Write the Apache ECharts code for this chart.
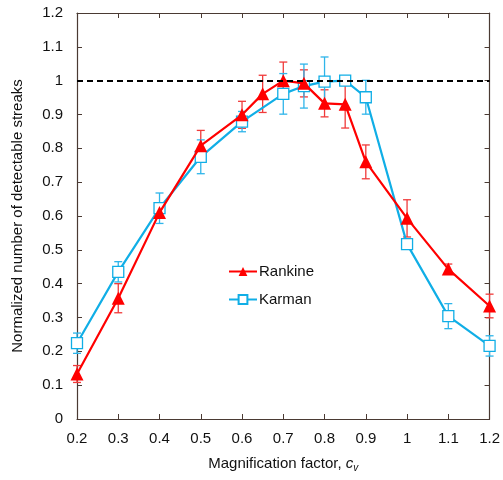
<!DOCTYPE html>
<html>
<head>
<meta charset="utf-8">
<script src="https://cdn.jsdelivr.net/npm/echarts@6/dist/echarts.min.js"></script>
<style>
  html, body { margin: 0; padding: 0; background: #fff; }
  #chart { width: 503px; height: 480px; }
</style>
</head>
<body>
<div id="chart"></div>
<script>
// magnification factor values for each series
const rankineX = [0.2, 0.3, 0.4, 0.5, 0.6, 0.65, 0.7, 0.75, 0.8, 0.85, 0.9, 1.0, 1.1, 1.2];
const rankineY = [0.133, 0.357, 0.61, 0.808, 0.899, 0.961, 1.0, 0.992, 0.933, 0.93, 0.76, 0.593, 0.443, 0.334];
const rankineErr = [0.025, 0.043, 0.015, 0.045, 0.04, 0.055, 0.055, 0.04, 0.04, 0.07, 0.05, 0.055, 0.015, 0.035];

const karmanX = [0.2, 0.3, 0.4, 0.5, 0.6, 0.7, 0.75, 0.8, 0.85, 0.9, 1.0, 1.1, 1.2];
const karmanY = [0.224, 0.435, 0.623, 0.775, 0.879, 0.961, 0.984, 0.997, 1.0, 0.951, 0.517, 0.304, 0.216];
const karmanErr = [0.03, 0.03, 0.045, 0.05, 0.03, 0.06, 0.065, 0.073, 0.01, 0.05, 0.01, 0.037, 0.03];

const referenceLevel = 1;

const axisColor = "#4a3a33";
const font = "Liberation Sans, Arial, sans-serif";

function points(xs, ys) {
    return xs.map((x, i) => [x, ys[i]]);
}

function errorData(xs, ys, errs) {
    return xs.map((x, i) => [x, ys[i] - errs[i], ys[i] + errs[i]]);
}

function errorBar(color) {
    return function (params, api) {
        const top = api.coord([api.value(0), api.value(2)]);
        const bottom = api.coord([api.value(0), api.value(1)]);
        const cap = 4;
        const style = { stroke: color, lineWidth: 1.3 };
        return {
            type: "group",
            children: [
                { type: "line", shape: { x1: top[0], y1: top[1], x2: bottom[0], y2: bottom[1] }, style },
                { type: "line", shape: { x1: top[0] - cap, y1: top[1], x2: top[0] + cap, y2: top[1] }, style },
                { type: "line", shape: { x1: bottom[0] - cap, y1: bottom[1], x2: bottom[0] + cap, y2: bottom[1] }, style },
            ],
        };
    };
}

const chart = echarts.init(document.getElementById("chart"));

const baseAxis = {
    type: "value",
    axisLine: { show: true, onZero: false, lineStyle: { color: axisColor, width: 1.2 } },
    axisTick: { show: true, inside: true, length: 5, lineStyle: { color: axisColor } },
    splitLine: { show: false },
};

chart.setOption({
    animation: false,
    textStyle: { fontFamily: font },
    grid: { left: 77, right: 13, top: 13, bottom: 61 },
    legend: {
        data: ["Rankine", "Karman"],
        orient: "vertical",
        left: 228,
        top: 264,
        padding: 0,
        itemWidth: 28,
        itemHeight: 11,
        itemGap: 13,
        textStyle: { fontSize: 15, color: "#111", fontFamily: font, padding: [0, 0, 0, -3] },
    },
    xAxis: [
        Object.assign({}, baseAxis, {
            min: 0.2,
            max: 1.2,
            interval: 0.1,
            axisLabel: { fontSize: 15, color: "#111", margin: 12, fontFamily: font },
            name: "Magnification factor, {i|c}{sub|v}",
            nameLocation: "middle",
            nameGap: 36,
            nameTextStyle: {
                fontSize: 15,
                color: "#111",
                fontFamily: font,
                rich: {
                    i: { fontStyle: "italic", fontSize: 15, color: "#111", fontFamily: font },
                    sub: { fontStyle: "italic", fontSize: 10, color: "#111", fontFamily: font, padding: [8, 0, 0, 0] },
                },
            },
        }),
        Object.assign({}, baseAxis, {
            position: "top",
            min: 0.2,
            max: 1.2,
            interval: 0.1,
            axisLabel: { show: false },
        }),
    ],
    yAxis: [
        Object.assign({}, baseAxis, {
            min: 0,
            max: 1.2,
            interval: 0.1,
            axisLabel: { fontSize: 15, color: "#111", margin: 14, fontFamily: font },
            name: "Normalized number of detectable streaks",
            nameLocation: "middle",
            nameGap: 52,
            nameTextStyle: { fontSize: 15, color: "#111", fontFamily: font },
        }),
        Object.assign({}, baseAxis, {
            position: "right",
            min: 0,
            max: 1.2,
            interval: 0.1,
            axisLabel: { show: false },
        }),
    ],
    series: [
        {
            name: "Rankine err",
            type: "custom",
            renderItem: errorBar("#f03a3a"),
            data: errorData(rankineX, rankineY, rankineErr),
            z: 1,
        },
        {
            name: "Karman err",
            type: "custom",
            renderItem: errorBar("#2fb5ea"),
            data: errorData(karmanX, karmanY, karmanErr),
            z: 1,
        },
        {
            name: "Rankine",
            type: "line",
            data: points(rankineX, rankineY),
            symbol: "triangle",
            symbolSize: 13,
            lineStyle: { color: "#ff0000", width: 2.2 },
            itemStyle: { color: "#ff0000" },
            z: 3,
            markLine: {
                silent: true,
                symbol: "none",
                label: { show: false },
                lineStyle: { color: "#000", type: [6, 4], width: 2 },
                data: [{ yAxis: referenceLevel }],
            },
        },
        {
            name: "Karman",
            type: "line",
            data: points(karmanX, karmanY),
            symbol: "rect",
            symbolSize: 11,
            showAllSymbol: true,
            lineStyle: { color: "#10aee6", width: 2.2 },
            itemStyle: { color: "#ffffff", borderColor: "#10aee6", borderWidth: 1.3, opacity: 1 },
            z: 2,
        },
    ],
});
</script>
</body>
</html>
